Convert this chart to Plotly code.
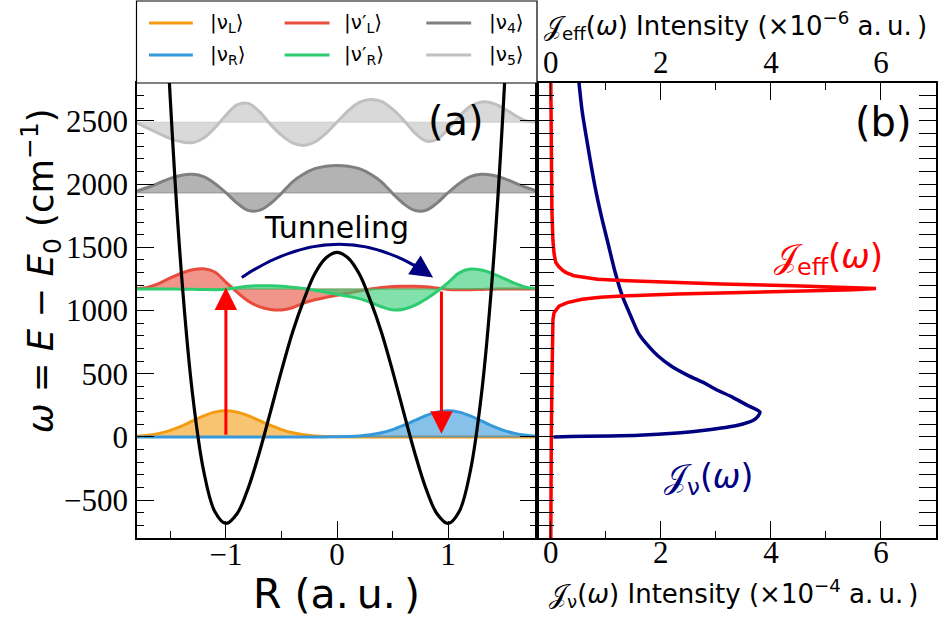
import plotly.graph_objects as go

# ---------------- data ----------------
R_grid = [-1.8, -1.7, -1.6, -1.5, -1.4, -1.3, -1.2, -1.1, -1.0, -0.9, -0.8, -0.7, -0.6,
          -0.5, -0.4, -0.3, -0.2, -0.1, 0.0, 0.1, 0.2, 0.3, 0.4, 0.5, 0.6, 0.7, 0.8,
          0.9, 1.0, 1.1, 1.2, 1.3, 1.4, 1.5, 1.6, 1.7, 1.8]

# double-well potential (cm^-1)
R_pot = [-1.6, -1.5, -1.4, -1.3, -1.2, -1.1, -1.0, -0.9, -0.8, -0.7, -0.6, -0.5, -0.4,
         -0.3, -0.2, -0.1, 0.0, 0.1, 0.2, 0.3, 0.4, 0.5, 0.6, 0.7, 0.8, 0.9, 1.0,
         1.1, 1.2, 1.3, 1.4, 1.5, 1.6]
V_pot = [4535, 2667, 1292, 336, -270, -590, -685, -608, -407, -127, 194, 522, 828,
         1080, 1290, 1415, 1460, 1415, 1290, 1080, 828, 522, 194, -127, -407, -608, -685,
         -590, -270, 336, 1292, 2667, 4535]

# state energies (baselines, cm^-1)
E_L, E_R, E_Lp, E_Rp, E_4, E_5 = 0, 0, 1170, 1170, 1930, 2490

# wavefunction amplitudes (drawn offsets, in the plot's cm^-1 units)
psi_L = [6, 14, 28, 52, 85, 126, 166, 196, 207, 196, 168, 130, 92, 58, 33, 17, 8, 3, 1,
         0, 0, 0, 0, 0, 0, 0, 0, 0, 0, 0, 0, 0, 0, 0, 0, 0, 0]
psi_R = [0, 0, 0, 0, 0, 0, 0, 0, 0, 0, 0, 0, 0, 0, 0, 0, 0, 0, 1,
         3, 8, 17, 33, 58, 92, 130, 168, 196, 207, 196, 166, 126, 85, 52, 28, 14, 6]
psi_Lp = [4, 15, 45, 88, 125, 152, 160, 135, 55, -25, -95, -140, -162, -166, -148, -112,
          -85, -66, -50, -34, -15, 0, 12, 20, 22, 22, 18, 8, -3, -6, -5, -3, -1, 0, 0, 0, 0]
psi_Rp = [0, 0, 0, 0, -1, -2, -4, -5, -2, 10, 22, 26, 25, 22, 14, 4, -10, -26, -42,
          -58, -76, -105, -140, -165, -160, -130, -80, -20, 50, 128, 158, 150, 122, 85,
          45, 15, 4]
psi_4 = [15, 45, 80, 116, 140, 148, 130, 75, 2, -80, -138, -138, -85, -3, 88, 150, 192,
         212, 218, 212, 192, 150, 88, -3, -85, -138, -138, -80, 2, 75, 130, 148, 140,
         116, 80, 45, 15]
psi_5 = [-8, -50, -90, -130, -155, -162, -125, -45, 55, 137, 149, 85, -16, -103, -164,
         -184, -157, -90, 0, 90, 157, 180, 164, 103, 16, -85, -149, -137, -55, 45, 125,
         160, 150, 110, 55, 12, 2]

# spectral densities of panel (b)
omega_nu = [0, 12, 30, 52, 92, 132, 165, 198, 255, 315, 375, 424, 485, 557, 640, 716,
            815, 929, 1115, 1302, 1514, 1727, 1966, 2259, 2578, 2900]
J_nu = [0.05, 1.6, 2.3, 2.8, 3.4, 3.68, 3.77, 3.80, 3.55, 3.3, 3.0, 2.8, 2.5, 2.2, 1.95,
        1.78, 1.6, 1.48, 1.3, 1.17, 1.05, 0.93, 0.81, 0.69, 0.57, 0.49]   # x 1e-4 a.u.

omega_eff = [-850, -400, 0, 400, 700, 850, 930, 983, 1035, 1062, 1089, 1105, 1115, 1130,
             1142, 1155, 1165, 1174, 1183, 1195, 1210, 1222, 1235, 1248, 1262, 1275, 1300,
             1316, 1350, 1382, 1450, 1550, 1800, 2200, 2850]
J_eff = [0.0, 0.0, 0.01, 0.02, 0.03, 0.04, 0.04, 0.06, 0.15, 0.3, 0.57, 0.9, 1.3, 2.3,
         3.6, 4.8, 5.5, 5.91, 5.4, 4.4, 3.1, 2.2, 1.4, 0.85, 0.58, 0.42, 0.28, 0.22, 0.14,
         0.09, 0.06, 0.04, 0.02, 0.01, 0.0]                     # x 1e-6 a.u.

state_names = ["|ν<sub>L</sub>⟩", "|ν<sub>R</sub>⟩", "|ν′<sub>L</sub>⟩",
               "|ν′<sub>R</sub>⟩", "|ν<sub>4</sub>⟩", "|ν<sub>5</sub>⟩"]

# ---------------- styling ----------------
C = {
    "L": (243, 156, 18), "R": (52, 152, 219), "Lp": (231, 76, 60),
    "Rp": (46, 204, 113), "4": (128, 128, 128), "5": (192, 192, 192),
}


def rgb(c, a=None):
    if a is None:
        return "rgb(%d,%d,%d)" % c
    return "rgba(%d,%d,%d,%.2f)" % (c + (a,))


W, H = 940, 618
ML, MR, MT, MB = 137, 2, 83, 80
PW, PH = W - ML - MR, H - MT - MB
XSPLIT = (538 - ML) / PW


def px(x):
    return (x - ML) / PW


def py(y):
    return (H - MB - y) / PH


fig = go.Figure()

states = [
    (state_names[5], E_5, psi_5, C["5"]),
    (state_names[4], E_4, psi_4, C["4"]),
    (state_names[0], E_L, psi_L, C["L"]),
    (state_names[1], E_R, psi_R, C["R"]),
    (state_names[2], E_Lp, psi_Lp, C["Lp"]),
    (state_names[3], E_Rp, psi_Rp, C["Rp"]),
]
for name, E, psi, col in states:
    fig.add_trace(go.Scatter(
        x=R_grid, y=[E] * len(R_grid), mode="lines",
        line=dict(color=rgb(col, 0.7), width=1), hoverinfo="skip",
        showlegend=False, xaxis="x", yaxis="y"))
    fig.add_trace(go.Scatter(
        x=R_grid, y=[E + p for p in psi], mode="lines", name=name,
        line=dict(color=rgb(col), width=3, shape="spline", smoothing=1.0),
        fill="tonexty", fillcolor=rgb(col, 0.6),
        showlegend=False, xaxis="x", yaxis="y"))

fig.add_trace(go.Scatter(
    x=R_pot, y=V_pot, mode="lines", name="V(R)",
    line=dict(color="black", width=3.2, shape="spline", smoothing=1.0),
    showlegend=False, xaxis="x", yaxis="y"))

fig.add_trace(go.Scatter(
    x=J_nu, y=omega_nu, mode="lines", name="J_nu",
    line=dict(color="#000080", width=3.5, shape="spline", smoothing=0.6),
    showlegend=False, xaxis="x2", yaxis="y2"))
fig.add_trace(go.Scatter(
    x=J_eff, y=omega_eff, mode="lines", name="J_eff",
    line=dict(color="#FF0000", width=3.5),
    showlegend=False, xaxis="x3", yaxis="y2"))

tickfont = dict(family="Liberation Serif", size=31, color="black")
common = dict(showline=True, linecolor="black", linewidth=1.5, ticks="inside",
              tickcolor="black", tickwidth=1.2, ticklen=17, showgrid=False,
              zeroline=False, tickfont=tickfont)
minor_common = dict(ticks="inside", ticklen=7, tickcolor="black", tickwidth=1.2,
                    showgrid=False)
ytickvals = [-500, 0, 500, 1000, 1500, 2000, 2500]

fig.update_layout(
    width=W, height=H,
    margin=dict(l=ML, r=MR, t=MT, b=MB),
    plot_bgcolor="white", paper_bgcolor="white",
    showlegend=False,
    font=dict(family="DejaVu Sans", color="black"),
    xaxis=dict(domain=[0, XSPLIT], range=[-1.8, 1.8], tickvals=[-1, 0, 1],
               minor=dict(tickvals=[-1.5, -0.5, 0.5, 1.5], **minor_common),
               mirror=True, anchor="y", ticklabelstandoff=-12, **common),
    yaxis=dict(domain=[0, 1], range=[-800, 2800], tickvals=ytickvals,
               minor=dict(dtick=100, tick0=0, **minor_common),
               mirror="allticks", anchor="x", ticklabelstandoff=1, **common),
    xaxis2=dict(domain=[XSPLIT, 1], range=[-0.25, 7], tickvals=[0, 2, 4, 6],
                minor=dict(tickvals=[1, 3, 5], **minor_common),
                anchor="y2", side="bottom", ticklabelstandoff=-14, **common),
    xaxis3=dict(range=[-0.25, 7], tickvals=[0, 2, 4, 6],
                minor=dict(tickvals=[1, 3, 5], **minor_common),
                overlaying="x2", anchor="y2", side="top", ticklabelstandoff=-4,
                **common),
    yaxis2=dict(domain=[0, 1], range=[-800, 2800], matches="y", tickvals=ytickvals,
                minor=dict(dtick=100, tick0=0, **minor_common),
                showticklabels=False, mirror="allticks", anchor="x2", **common),
)

ann = []
shapes = []
J = "\U0001D4A5"


def label(text, x, y, size, color="black", angle=0, xanchor="center"):
    return dict(text=text, x=px(x), y=py(y), xref="paper", yref="paper",
                xanchor=xanchor, yanchor="middle", textangle=angle, showarrow=False,
                font=dict(size=size, family="DejaVu Sans", color=color))


# axis titles
ann.append(label("<i>ω</i> = <i>E</i> − <i>E</i><sub>0</sub> (cm<sup>−1</sup>)",
                 40, 271, 35.5, angle=-90))
ann.append(label("R (a.\u2009u.\u2009)", 337, 594, 41))
ann.append(label(J + "<sub>ν</sub>(<i>ω</i>) Intensity (×10<sup>−4</sup> a.\u2009u.\u2009)",
                 735, 593, 26))
ann.append(label(J + "<sub>eff</sub>(<i>ω</i>) Intensity (×10<sup>−6</sup> a.\u2009u.\u2009)",
                 737, 25, 26))

# panel labels and texts
ann.append(label("(a)", 457, 121, 40))
ann.append(label("(b)", 885, 122, 40))
ann.append(label("Tunneling", 337, 227, 30))
ann.append(label(J + "<sub>eff</sub>(<i>ω</i>)", 830, 258, 34, color="#FF0000"))
ann.append(label(J + "<sub>ν</sub>(<i>ω</i>)", 710, 478, 33, color="#000080"))

# red transition arrows
ann.append(dict(x=-1.0, y=1182, ax=-1.0, ay=5, xref="x", yref="y", axref="x",
                ayref="y", text="", showarrow=True, arrowhead=2, arrowsize=1.5,
                arrowwidth=3, arrowcolor="#FF0000"))
ann.append(dict(x=0.94, y=25, ax=0.94, ay=1163, xref="x", yref="y", axref="x",
                ayref="y", text="", showarrow=True, arrowhead=2, arrowsize=1.5,
                arrowwidth=3, arrowcolor="#FF0000"))
# tunneling arc
shapes.append(dict(type="path", xref="x", yref="y",
                   path="M -0.857,1262 Q 0,1766 0.80,1300",
                   line=dict(color="#000080", width=3)))
ann.append(dict(x=0.865, y=1262, ax=-21, ay=-14, xref="x", yref="y", text="",
                showarrow=True, arrowhead=2, arrowsize=1.5, arrowwidth=3,
                arrowcolor="#000080"))

# legend (drawn manually to match the reference layout)
shapes.append(dict(type="rect", xref="paper", yref="paper", x0=px(136.5), x1=px(538),
                   y0=py(83), y1=py(1), line=dict(color="black", width=1.2),
                   fillcolor="white", layer="above"))
cols = [(149, 193, 208), (285, 330, 343), (427, 472, 488)]
rows = [23, 55]
leg = [(0, 0, state_names[0], C["L"]), (0, 1, state_names[1], C["R"]),
       (1, 0, state_names[2], C["Lp"]), (1, 1, state_names[3], C["Rp"]),
       (2, 0, state_names[4], C["4"]), (2, 1, state_names[5], C["5"])]
for ci, ri, name, col in leg:
    x0, x1, xt = cols[ci]
    yy = rows[ri]
    shapes.append(dict(type="line", xref="paper", yref="paper", x0=px(x0), x1=px(x1),
                       y0=py(yy), y1=py(yy), line=dict(color=rgb(col), width=3),
                       layer="above"))
    ann.append(label(name, xt, yy, 20, xanchor="left"))

fig.update_layout(annotations=ann, shapes=shapes)
fig.write_html("out.html",
               config={"displayModeBar": False},
               post_script="document.body.style.margin='0px';"
                           "document.body.style.overflow='hidden';")
